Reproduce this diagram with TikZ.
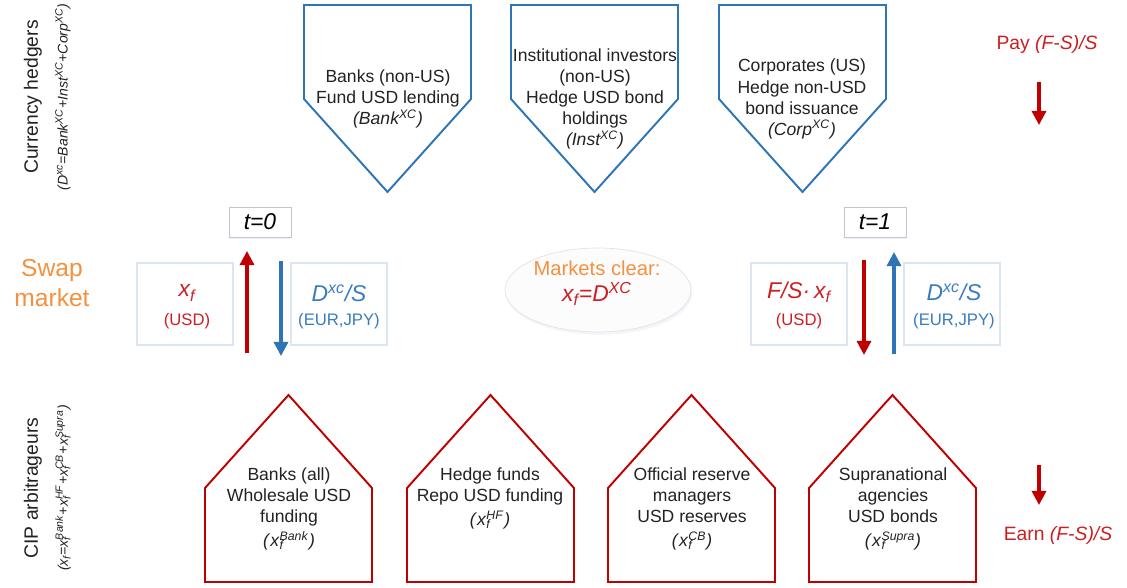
\documentclass[tikz,border=0pt]{standalone}
\usepackage{fontspec}
\setmainfont{Liberation Sans}
\usetikzlibrary{arrows.meta,shapes.geometric,shadows,positioning}
\definecolor{swblue}  {HTML}{2E75B6}
\definecolor{swblueTx}{HTML}{3A7CC2}
\definecolor{swred}   {HTML}{C00000}
\definecolor{swredTx} {HTML}{CC1F24}
\definecolor{sworange}{HTML}{F4913F}
\definecolor{swrule}  {HTML}{DCE5F1}
\definecolor{swink}   {HTML}{222222}
% x_f and x_f^{...} in sans italic
\newcommand{\xf}{\textit{x}\textsubscript{\textit{f}}}
\newcommand{\xfs}[1]{\textit{x}\rlap{\textsubscript{\textit{f}}}\textsuperscript{\textit{#1}}}
% hedger shield pointing down, #1 = left edge
\newcommand{\swshield}[1]{%
  \draw[swblue, line width=1.1pt]
    (#1,5) -- ++(167,0) -- ++(0,94) -- ++(-83.5,93) -- ++(-83.5,-93) -- cycle;}
% arbitrageur house pointing up, #1 = left edge
\newcommand{\swhouse}[1]{%
  \draw[swred, line width=1.1pt]
    (#1,582) -- ++(0,-94) -- ++(83.5,-93) -- ++(83.5,93) -- ++(0,94) -- cycle;}
\tikzset{
  hedger/.style={align=center, text=swink, inner sep=0pt,
    font=\fontsize{10}{12}\selectfont},
  arbit/.style={hedger, anchor=north},
  sidelbl/.style={rotate=90, text=swink, font=\fontsize{11}{13}\selectfont},
  sidesum/.style={rotate=90, text=swink, font=\fontsize{8}{9}\selectfont\itshape},
  tradebox/.style={draw=swrule, line width=0.6pt, minimum width=1.92cm,
    minimum height=1.64cm},
  clockbox/.style={draw=swrule!70!gray, fill=white, line width=0.5pt,
    minimum width=1.24cm, minimum height=0.6cm, inner sep=0pt,
    font=\fontsize{13}{15}\selectfont\itshape,
    drop shadow={shadow xshift=0pt, shadow yshift=-1.2pt, fill=swrule}},
  bigred/.style={text=swredTx, font=\fontsize{13}{15}\selectfont\itshape},
  bigblue/.style={text=swblueTx, font=\fontsize{13}{15}\selectfont\itshape},
  smallred/.style={text=swredTx, font=\fontsize{9.5}{11}\selectfont},
  smallblue/.style={text=swblueTx, font=\fontsize{9.5}{11}\selectfont},
  redflow/.style={swred, line width=1.8pt, -{Triangle[length=8pt,width=8pt]}},
  blueflow/.style={swblue, line width=1.8pt, -{Triangle[length=8pt,width=8pt]}},
  payoff/.style={text=swredTx, font=\fontsize{11}{13}\selectfont},
}
\begin{document}
\begin{tikzpicture}[x=0.02cm, y=-0.02cm]
\useasboundingbox[fill=white] (0,0) rectangle (1127,588);

% row labels on the left
\node[sidelbl] (hedgers) at (33,97) {Currency hedgers};
\node[sidesum] (hedgesum) at (63,97)
  {(D\textsuperscript{xc}=Bank\textsuperscript{XC}+Inst\textsuperscript{XC}+Corp\textsuperscript{XC})};
\node[sidelbl] (arbs) at (33,488) {CIP arbitrageurs};
\node[sidesum] (arbsum) at (63,488)
  {(\xf=\xfs{Bank}+\xfs{HF}+\xfs{CB}+\xfs{Supra})};
\node[align=center, text=sworange, font=\fontsize{14}{17}\selectfont]
  (swap) at (52,283) {Swap\\market};

% currency hedgers
\foreach \sx in {304,511,719} {\swshield{\sx}}
\node[hedger] (bankxc) at (388,99)
  {Banks (non-US)\\Fund USD lending\\\textit{(Bank\textsuperscript{XC})}};
\node[hedger] (instxc) at (595,99)
  {Institutional investors\\(non-US)\\Hedge USD bond\\holdings\\\textit{(Inst\textsuperscript{XC})}};
\node[hedger] (corpxc) at (802,99)
  {Corporates (US)\\Hedge non-USD\\bond issuance\\\textit{(Corp\textsuperscript{XC})}};

% CIP arbitrageurs
\foreach \sx in {205,407,608,809} {\swhouse{\sx}}
\node[arbit] (bankall) at (289,467)
  {Banks (all)\\Wholesale USD\\funding\\[2pt]\textit{(}\xfs{Bank}\textit{)}};
\node[arbit] (hedgef) at (490,467)
  {Hedge funds\\Repo USD funding\\[2pt]\textit{(}\xfs{HF}\textit{)}};
\node[arbit] (official) at (692,467)
  {Official reserve\\managers\\USD reserves\\[2pt]\textit{(}\xfs{CB}\textit{)}};
\node[arbit] (supra) at (893,467)
  {Supranational\\agencies\\USD bonds\\[2pt]\textit{(}\xfs{Supra}\textit{)}};

% swap leg at t=0
\node[clockbox] (t0) at (260,222) {t=0};
\node[tradebox] (usd0) at (185,304) {};
\node[tradebox] (fx0) at (339,304) {};
\node[bigred] (xf0) at (187,293) {\xf};
\node[smallred] (usd0lbl) at (187,321) {(USD)};
\node[bigblue] (dxc0) at (339,293) {D\textsuperscript{xc}/S};
\node[smallblue] (fx0lbl) at (339,321) {(EUR,JPY)};
\coordinate (usdup0) at (247,353);
\coordinate (usdup1) at (247,251);
\coordinate (fxdn0) at (281,261);
\coordinate (fxdn1) at (281,356);
\draw[redflow] (usdup0) -- (usdup1);
\draw[blueflow] (fxdn0) -- (fxdn1);

% swap leg at t=1
\node[clockbox] (t1) at (875,222) {t=1};
\node[tradebox] (usd1) at (799,304) {};
\node[tradebox] (fx1) at (952,304) {};
\node[bigred] (fsxf) at (799,292) {F/S·\,\xf};
\node[smallred] (usd1lbl) at (799,321) {(USD)};
\node[bigblue] (dxc1) at (954,292) {D\textsuperscript{xc}/S};
\node[smallblue] (fx1lbl) at (954,321) {(EUR,JPY)};
\coordinate (usddn0) at (864,260);
\coordinate (usddn1) at (864,355);
\coordinate (fxup0) at (894,354);
\coordinate (fxup1) at (894,252);
\draw[redflow] (usddn0) -- (usddn1);
\draw[blueflow] (fxup0) -- (fxup1);

% market clearing
\node[ellipse, draw=gray!22, fill=white!98!gray, minimum width=3.72cm,
  minimum height=1.68cm,
  drop shadow={shadow xshift=0.8pt, shadow yshift=-1.6pt, fill=swblue!12}]
  (clear) at (598,290) {};
\node[text=sworange, font=\fontsize{11.5}{13}\selectfont] (clearlbl) at (597,268)
  {Markets clear:};
\node[bigred] (cleareq) at (597,294) {\xf=D\textsuperscript{XC}};

% payoffs
\node[payoff] (pay) at (1047,45) {Pay \textit{(F-S)/S}};
\coordinate (pay0) at (1039,82);
\coordinate (pay1) at (1039,125);
\draw[redflow] (pay0) -- (pay1);
\node[payoff] (earn) at (1058,535) {Earn \textit{(F-S)/S}};
\coordinate (earn0) at (1039,465);
\coordinate (earn1) at (1039,505);
\draw[redflow] (earn0) -- (earn1);
\end{tikzpicture}
\end{document}
